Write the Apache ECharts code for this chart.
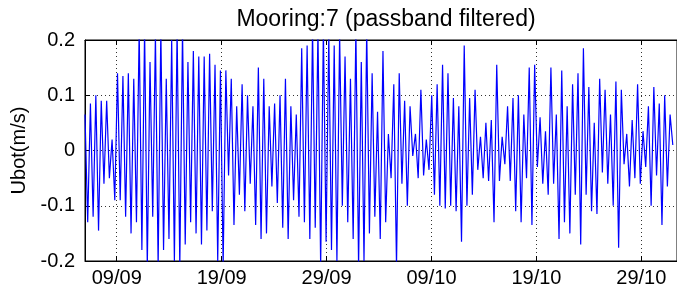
<!DOCTYPE html>
<html>
<head>
<meta charset="utf-8">
<script src="https://cdn.jsdelivr.net/npm/echarts@6/dist/echarts.min.js"></script>
<style>
  html, body { margin: 0; padding: 0; background: #fff; }
  #chart { width: 677px; height: 293px; }
</style>
</head>
<body>
<div id="chart"></div>
<script>
// days counted from 30/08, so 09/09 = day 10
const firstDay = 6.975
const lastDay = 63.0
const tickDays = [10, 20, 30, 40, 50, 60]
const yTicks = [-0.2, -0.1, 0, 0.1, 0.2]

// Ubot extremes (m/s), peak/trough alternating
const ubotEarlySep = [0.065,-0.13, 0.085,-0.12, 0.10,-0.145, 0.09,-0.06, 0.09,-0.05, 0.02,-0.09,
  0.14,-0.09, 0.135,-0.12, 0.14,-0.15, 0.13,-0.13, 0.22,-0.18, 0.22,-0.21, 0.16,-0.12, 0.21,-0.21,
  0.22,-0.18, 0.13,-0.16, 0.2,-0.2, 0.22,-0.21, 0.22,-0.17, 0.16,-0.13, 0.18,-0.15, 0.17,-0.17]
const ubotLateSep = [0.17,-0.145, 0.175,-0.11, 0.155,-0.2, 0.145,-0.21, 0.145,-0.045, 0.13,-0.135,
  0.08,-0.08, 0.12,-0.11, 0.10,-0.06, 0.08,-0.135, 0.15,-0.16, 0.13,-0.15, 0.08,-0.065, 0.085,-0.095,
  0.10,-0.14, 0.13,-0.16, 0.08,-0.09, 0.065,-0.12, 0.185,-0.13, 0.19,-0.16, 0.22,-0.14, 0.22,-0.21]
const ubotEarlyOct = [0.22,-0.165, 0.21,-0.18, 0.19,-0.2, 0.21,-0.1, 0.17,-0.13, 0.13,-0.16,
  0.22,-0.21, 0.16,-0.2, 0.22,-0.15, 0.14,-0.12, 0.07,-0.16, 0.18,-0.13, 0.03,-0.05, 0.12,-0.21,
  0.14,-0.06, 0.09,-0.1, 0.08,-0.01, 0.03,-0.05, 0.11,-0.045, 0.02,-0.035, 0.1,-0.08, 0.12,-0.1]
const ubotMidOct = [0.155,-0.105, 0.14,-0.10, 0.095,-0.11, 0.08,-0.165, 0.19,-0.10, 0.095,-0.08,
  0.11,-0.035, 0.025,-0.05, 0.05,-0.055, 0.055,-0.13, 0.155,-0.055, 0.025,-0.025, 0.08,-0.055,
  0.095,-0.11, 0.10,-0.13, 0.065,-0.05, 0.15,-0.135, 0.155,-0.03, 0.06,-0.06, 0.035,-0.08, 0.15,-0.06, 0.065,-0.16]
const ubotLateOct = [0.145,-0.13, 0.08,-0.15, 0.12,-0.08, 0.14,-0.17, 0.185,-0.08, 0.115,-0.11,
  0.05,-0.115, 0.13,-0.04, 0.11,-0.06, 0.065,-0.10, 0.125,-0.176, 0.11,-0.025, 0.03,-0.065,
  0.055,-0.05, 0.12,-0.06, 0.035,-0.03, 0.08,-0.10, 0.115,-0.045, 0.085,-0.135, 0.10,-0.065, 0.065,0.01]

const ubot = [].concat(ubotEarlySep, ubotLateSep, ubotEarlyOct, ubotMidOct, ubotLateOct)
const step = (lastDay - firstDay) / (ubot.length - 1)
const series = ubot.map((v, i) => [firstDay + i * step, v])

function dayLabel(d){
    const t = new Date(Date.UTC(2013, 7, 30) + Math.round(d) * 86400000)
    const dd = String(t.getUTCDate()).padStart(2, '0')
    const mm = String(t.getUTCMonth() + 1).padStart(2, '0')
    return dd + '/' + mm
}

const font = 'Liberation Sans, Arial, sans-serif'
const gridDots = { show: true, lineStyle: { color: '#333', type: [1, 3], width: 1 } }

const chart = echarts.init(document.getElementById('chart'))
chart.setOption({
    animation: false,
    title: {
        text: 'Mooring:7 (passband filtered)',
        left: 381, top: 3, textAlign: 'center',
        textStyle: { fontFamily: font, fontSize: 23, fontWeight: 'normal', color: '#000' }
    },
    grid: {
        left: 85, right: -5, top: 40, bottom: 32,
        show: true, borderColor: '#000', borderWidth: 1
    },
    xAxis: [
        {
            type: 'value', min: firstDay, max: 63.4,
            axisLine: { show: true, onZero: false, lineStyle: { color: '#000' } },
            axisTick: { show: true, inside: true, length: 5, customValues: tickDays, lineStyle: { color: '#000' } },
            axisLabel: { customValues: tickDays, formatter: dayLabel, fontFamily: font, fontSize: 20, color: '#000', margin: 7 },
            splitLine: gridDots
        },
        {
            type: 'value', position: 'top', min: firstDay, max: 63.4,
            axisLine: { show: true, onZero: false, lineStyle: { color: '#000' } },
            axisTick: { show: true, inside: true, length: 5, customValues: tickDays, lineStyle: { color: '#000' } },
            axisLabel: { show: false },
            splitLine: { show: false }
        }
    ],
    yAxis: {
        type: 'value', min: -0.2, max: 0.2, interval: 0.1,
        name: 'Ubot(m/s)', nameLocation: 'middle', nameGap: 55, nameRotate: 90,
        nameTextStyle: { fontFamily: font, fontSize: 20, color: '#000' },
        axisLine: { show: true, onZero: false, lineStyle: { color: '#000' } },
        axisTick: { show: true, inside: true, length: 5, lineStyle: { color: '#000' } },
        axisLabel: {
            fontFamily: font, fontSize: 20, color: '#000', margin: 10,
            formatter: v => yTicks.includes(Math.round(v * 10) / 10) ? String(Math.round(v * 10) / 10) : ''
        },
        splitLine: gridDots
    },
    series: [{
        type: 'line', data: series, showSymbol: false, clip: true,
        lineStyle: { color: '#0000ff', width: 1.2 }
    }]
})
</script>
</body>
</html>
